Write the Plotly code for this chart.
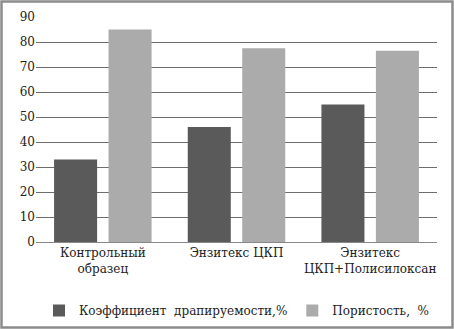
import plotly.graph_objects as go

categories = ["Контрольный<br>образец", "Энзитекс ЦКП", "Энзитекс<br>ЦКП+Полисилоксан"]
drape = [33, 46, 55]
porosity = [85, 77.5, 76.5]
series_names = ["Коэффициент\u00a0\u00a0драпируемости,%", "Пористость,\u00a0\u00a0%"]

FONT = dict(family="DejaVu Serif", size=12, color="#222")

fig = go.Figure()
fig.add_trace(go.Bar(x=categories, y=drape, name=series_names[0],
                     marker=dict(color="#5a5a5a", line=dict(width=0))))
fig.add_trace(go.Bar(x=categories, y=porosity, name=series_names[1],
                     marker=dict(color="#ababab", line=dict(width=0))))

W, H = 454, 329
ml, mr, mt, mb = 36, 17, 17, 87
pw, ph = W - ml - mr, H - mt - mb

fig.update_layout(
    width=W, height=H,
    margin=dict(l=ml, r=mr, t=mt, b=mb, autoexpand=False),
    barmode="group", bargap=0.185, bargroupgap=0.21,
    paper_bgcolor="white", plot_bgcolor="white",
    font=FONT,
    showlegend=True,
    legend=dict(orientation="h", x=0.5, xanchor="center", y=-0.24, yanchor="top",
                bgcolor="rgba(0,0,0,0)", font=FONT, tracegroupgap=0),
    xaxis=dict(showgrid=False, showline=True, linecolor="#888", linewidth=1,
               ticks="", tickangle=0, automargin=False, tickfont=FONT),
    yaxis=dict(range=[0, 90], dtick=10, showgrid=True, gridcolor="#6e6e6e",
               gridwidth=1, zeroline=False, showline=False, ticks="", automargin=False,
               tickfont=FONT),
    shapes=[dict(type="rect", xref="paper", yref="paper",
                 x0=-(ml - 1.5) / pw, x1=1 + (mr - 1.5) / pw,
                 y0=-(mb - 1.5) / ph, y1=1 + (mt - 1.5) / ph,
                 line=dict(color="#8c8c8c", width=2.5), layer="below")],
)

fig.write_html("out.html", config={"displayModeBar": False},
               post_script="document.body.style.margin='0';document.body.style.overflow='hidden';")
